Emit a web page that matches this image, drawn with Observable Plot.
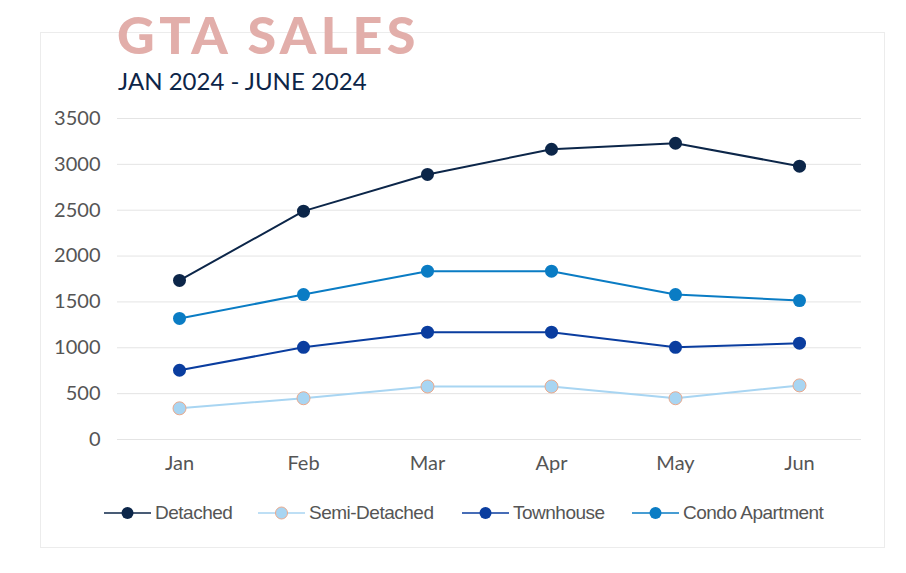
<!DOCTYPE html>
<html>
<head>
<meta charset="utf-8">
<script src="https://cdn.jsdelivr.net/npm/d3@7"></script>
<script src="https://cdn.jsdelivr.net/npm/@observablehq/plot@0.6"></script>
<style>
  html, body { margin: 0; padding: 0; background: #fff; }
  #wrap { position: relative; width: 906px; height: 573px; overflow: hidden; }
  #frame { position: absolute; left: 40px; top: 32px; width: 845px; height: 516px; border: 1px solid #ececec; box-sizing: border-box; }
  #title { position: absolute; left: 117px; top: 3px; font-family: Lato, "Open Sans", sans-serif; font-weight: 900; font-size: 52px; letter-spacing: 4.5px; color: #e2aeaa; line-height: normal; margin: 0; }
  #subtitle { position: absolute; left: 118px; top: 66px; font-family: Lato, "Open Sans", sans-serif; font-weight: 400; font-size: 24px; color: #0d2548; line-height: normal; margin: 0; }
  #chart { position: absolute; left: 0; top: 0; }
  #legend { position: absolute; left: 0; top: 500px; width: 906px; height: 26px; font-family: "Liberation Sans", Arial, sans-serif; font-size: 19px; color: #555; letter-spacing: -0.5px; }
  .item { position: absolute; top: 0; display: flex; align-items: center; height: 26px; }
  .item svg { margin-right: 4px; }
</style>
</head>
<body>
<div id="wrap">
  <div id="frame"></div>
  <div id="chart"></div>
  <h1 id="title">GTA SALES</h1>
  <h2 id="subtitle">JAN 2024 - JUNE 2024</h2>
  <div id="legend"></div>
</div>
<script>
const months = ["Jan", "Feb", "Mar", "Apr", "May", "Jun"];
const seriesNames = ["Detached", "Semi-Detached", "Townhouse", "Condo Apartment"];
const detached = [1735, 2490, 2890, 3165, 3230, 2980];
const semiDetached = [340, 450, 578, 578, 450, 590];
const townhouse = [755, 1005, 1170, 1170, 1005, 1050];
const condoApartment = [1320, 1580, 1835, 1835, 1580, 1515];
const seriesColors = ["#0c2649", "#a8d5f2", "#0a3d9f", "#0a7cc4"];
const markerOutline = ["none", "#eaa98c", "none", "none"];
const yTicks = [0, 500, 1000, 1500, 2000, 2500, 3000, 3500];

const valuesBySeries = [detached, semiDetached, townhouse, condoApartment];
const data = [];
seriesNames.forEach((s, i) => months.forEach((m, j) => data.push({series: s, month: m, value: valuesBySeries[i][j]})));

const chart = Plot.plot({
  width: 906,
  height: 573,
  marginLeft: 117,
  marginRight: 45,
  marginTop: 118,
  marginBottom: 134,
  style: { fontFamily: "Lato, 'Open Sans', sans-serif", fontSize: "20px", color: "#555", background: "transparent" },
  x: { type: "point", domain: months, padding: 0.5, label: null },
  y: { domain: [0, 3500], label: null },
  color: { domain: seriesNames, range: seriesColors },
  marks: [
    Plot.gridY(yTicks, { stroke: "#e4e4e4", strokeOpacity: 1, strokeWidth: 1 }),
    Plot.axisY({ ticks: yTicks, tickFormat: d => String(d), tickSize: 0, tickPadding: 17, fontSize: 20, fill: "#555", label: null }),
    Plot.axisX({ tickSize: 0, tickPadding: 16, fontSize: 20, fill: "#555", label: null }),
    Plot.line(data, { x: "month", y: "value", z: "series", stroke: "series", strokeWidth: 2 }),
    Plot.dot(data, { x: "month", y: "value", fill: "series", r: 6.5,
      stroke: d => markerOutline[seriesNames.indexOf(d.series)], strokeWidth: 1 })
  ]
});
document.getElementById("chart").appendChild(chart);

const legendX = [104, 258, 462, 632];
const legend = document.getElementById("legend");
seriesNames.forEach((s, i) => {
  const item = document.createElement("div");
  item.className = "item";
  item.style.left = legendX[i] + "px";
  item.innerHTML = `<svg width="47" height="16"><line x1="0" x2="47" y1="8" y2="8" stroke="${seriesColors[i]}" stroke-width="1.5"/><circle cx="23.5" cy="8" r="6" fill="${seriesColors[i]}" stroke="${markerOutline[i]}" stroke-width="1"/></svg><span>${s}</span>`;
  legend.appendChild(item);
});
</script>
</body>
</html>
